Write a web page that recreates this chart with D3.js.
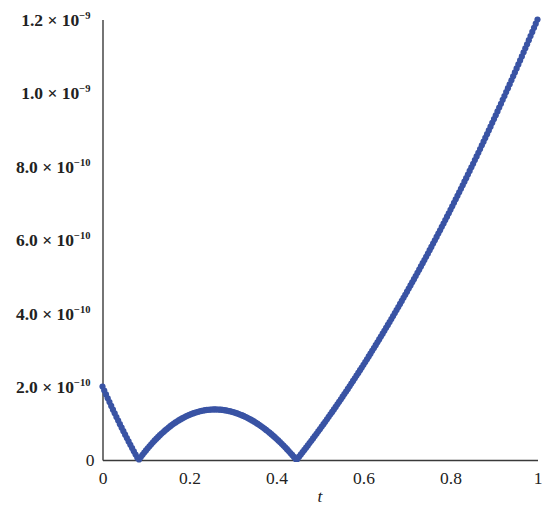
<!DOCTYPE html>
<html>
<head>
<meta charset="utf-8">
<script src="https://cdn.jsdelivr.net/npm/d3@7"></script>
<style>
  html, body { margin: 0; padding: 0; background: #fff; }
  svg { display: block; }
</style>
</head>
<body>
<div id="chart"></div>
<script>
// sample positions along t
var tValues = [
  0,0.004,0.008,0.012,0.016,0.02,0.024,0.028,0.032,0.036,0.04,0.044,0.048,0.052,0.056,0.06,0.064,0.068,0.072,0.076,0.08,0.084,0.088,0.092,0.096,
  0.1,0.104,0.108,0.112,0.116,0.12,0.124,0.128,0.132,0.136,0.14,0.144,0.148,0.152,0.156,0.16,0.164,0.168,0.172,0.176,0.18,0.184,0.188,0.192,0.196,
  0.2,0.204,0.208,0.212,0.216,0.22,0.224,0.228,0.232,0.236,0.24,0.244,0.248,0.252,0.256,0.26,0.264,0.268,0.272,0.276,0.28,0.284,0.288,0.292,0.296,
  0.3,0.304,0.308,0.312,0.316,0.32,0.324,0.328,0.332,0.336,0.34,0.344,0.348,0.352,0.356,0.36,0.364,0.368,0.372,0.376,0.38,0.384,0.388,0.392,0.396,
  0.4,0.404,0.408,0.412,0.416,0.42,0.424,0.428,0.432,0.436,0.44,0.444,0.448,0.452,0.456,0.46,0.464,0.468,0.472,0.476,0.48,0.484,0.488,0.492,0.496,
  0.5,0.504,0.508,0.512,0.516,0.52,0.524,0.528,0.532,0.536,0.54,0.544,0.548,0.552,0.556,0.56,0.564,0.568,0.572,0.576,0.58,0.584,0.588,0.592,0.596,
  0.6,0.604,0.608,0.612,0.616,0.62,0.624,0.628,0.632,0.636,0.64,0.644,0.648,0.652,0.656,0.66,0.664,0.668,0.672,0.676,0.68,0.684,0.688,0.692,0.696,
  0.7,0.704,0.708,0.712,0.716,0.72,0.724,0.728,0.732,0.736,0.74,0.744,0.748,0.752,0.756,0.76,0.764,0.768,0.772,0.776,0.78,0.784,0.788,0.792,0.796,
  0.8,0.804,0.808,0.812,0.816,0.82,0.824,0.828,0.832,0.836,0.84,0.844,0.848,0.852,0.856,0.86,0.864,0.868,0.872,0.876,0.88,0.884,0.888,0.892,0.896,
  0.9,0.904,0.908,0.912,0.916,0.92,0.924,0.928,0.932,0.936,0.94,0.944,0.948,0.952,0.956,0.96,0.964,0.968,0.972,0.976,0.98,0.984,0.988,0.992,0.996,
  1
];

// error values, in units of 1e-10
var errValues = [
  2.000,1.893,1.786,1.681,1.577,1.474,1.372,1.271,1.172,1.073,0.976,0.880,0.785,0.691,0.598,0.506,0.415,0.326,0.237,0.150,0.064,0.016,0.080,0.142,0.202,
  0.261,0.318,0.374,0.428,0.481,0.532,0.581,0.629,0.675,0.720,0.763,0.805,0.845,0.884,0.921,0.957,0.991,1.024,1.055,1.084,1.113,1.139,1.165,1.189,1.211,
  1.232,1.251,1.270,1.286,1.301,1.315,1.328,1.339,1.348,1.357,1.364,1.369,1.373,1.376,1.377,1.378,1.376,1.374,1.370,1.364,1.358,1.350,1.341,1.330,1.318,
  1.305,1.291,1.275,1.258,1.240,1.221,1.200,1.178,1.155,1.131,1.105,1.078,1.050,1.021,0.990,0.959,0.926,0.892,0.857,0.820,0.783,0.744,0.704,0.663,0.621,
  0.577,0.533,0.488,0.441,0.393,0.344,0.294,0.243,0.191,0.138,0.084,0.028,0.030,0.090,0.151,0.212,0.274,0.336,0.398,0.461,0.524,0.587,0.651,0.715,0.780,
  0.845,0.910,0.976,1.042,1.109,1.176,1.243,1.311,1.379,1.447,1.516,1.585,1.655,1.725,1.795,1.866,1.937,2.009,2.081,2.153,2.226,2.299,2.372,2.446,2.520,
  2.595,2.670,2.745,2.821,2.897,2.974,3.051,3.128,3.206,3.284,3.362,3.441,3.520,3.600,3.680,3.760,3.841,3.922,4.004,4.086,4.168,4.251,4.334,4.417,4.501,
  4.585,4.670,4.755,4.840,4.926,5.012,5.099,5.186,5.273,5.361,5.449,5.537,5.626,5.716,5.805,5.895,5.986,6.076,6.167,6.259,6.351,6.443,6.536,6.629,6.722,
  6.816,6.911,7.005,7.100,7.196,7.291,7.387,7.484,7.581,7.678,7.776,7.874,7.972,8.071,8.171,8.270,8.370,8.471,8.571,8.673,8.774,8.876,8.978,9.081,9.184,
  9.288,9.391,9.496,9.600,9.705,9.811,9.916,10.023,10.129,10.236,10.343,10.451,10.559,10.668,10.776,10.886,10.995,11.105,11.216,11.326,11.438,11.549,11.661,11.773,11.886,12.000
];

var xTicks = [0, 0.2, 0.4, 0.6, 0.8, 1];
var xTickLabels = ["0", "0.2", "0.4", "0.6", "0.8", "1"];
var yTicks = [0, 2, 4, 6, 8, 10, 12];
var yTickMantissa = ["0", "2.0", "4.0", "6.0", "8.0", "1.0", "1.2"];
var yTickExponent = ["", "\u221210", "\u221210", "\u221210", "\u221210", "\u22129", "\u22129"];

var W = 550, H = 514;
var serif = "'Liberation Serif', 'Times New Roman', serif";

var svg = d3.select('#chart').append('svg')
  .attr('width', W).attr('height', H)
  .style('font-family', serif);

var x = d3.scaleLinear().domain([0, 1]).range([102.5, 537.5]);
var y = d3.scaleLinear().domain([0, 12]).range([460, 19.5]);

// x axis
var xAxis = svg.append('g')
  .attr('transform', 'translate(0,' + y(0) + ')')
  .call(d3.axisBottom(x).tickValues(xTicks)
    .tickFormat(function(d, i){ return xTickLabels[i] })
    .tickSize(0).tickSizeOuter(0).tickPadding(12));
xAxis.select('.domain').attr('stroke', '#3a3a3a').attr('stroke-width', 1.4);
xAxis.selectAll('text')
  .attr('font-family', serif).attr('font-size', 17.5).attr('fill', '#222');

// y axis
var yAxis = svg.append('g')
  .attr('transform', 'translate(' + x(0) + ',0)')
  .call(d3.axisLeft(y).tickValues(yTicks)
    .tickFormat(function(){ return '' })
    .tickSize(0).tickSizeOuter(0).tickPadding(12));
yAxis.select('.domain').attr('stroke', '#3a3a3a').attr('stroke-width', 1.4);
yAxis.selectAll('.tick text').each(function(d, i){
  var txt = d3.select(this)
    .attr('font-family', serif).attr('font-size', 17.5).attr('fill', '#222')
    .attr('dy', '0.34em');
  if (!yTickExponent[i]) {
    txt.attr('x', -8).attr('font-weight', 'normal').text(yTickMantissa[i]);
    return;
  }
  txt.attr('font-weight', 'bold');
  txt.append('tspan').text(yTickMantissa[i] + ' \u00d7 10');
  txt.append('tspan').attr('font-size', 10.5).attr('dy', -7).text(yTickExponent[i]);
});

// axis title
svg.append('text')
  .attr('x', x(0.5)).attr('y', 502)
  .attr('text-anchor', 'middle')
  .attr('font-size', 17.5).attr('font-style', 'italic').attr('fill', '#222')
  .text('t');

// points
svg.append('g').selectAll('circle')
  .data(tValues)
  .join('circle')
  .attr('cx', function(d){ return x(d) })
  .attr('cy', function(d, i){ return y(errValues[i]) })
  .attr('r', 3.1)
  .attr('fill', '#3953a4');
</script>
</body>
</html>
